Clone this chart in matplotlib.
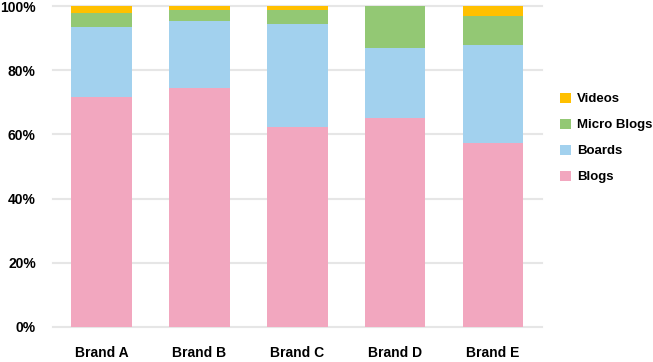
import matplotlib.pyplot as plt
from matplotlib.ticker import FuncFormatter

brands = ["Brand A", "Brand B", "Brand C", "Brand D", "Brand E"]
blogs = [71.7, 74.5, 62.3, 65.2, 57.3]
boards = [21.8, 20.9, 32.1, 21.8, 30.6]
micro_blogs = [4.3, 3.3, 4.3, 13.0, 9.0]
videos = [2.2, 1.3, 1.3, 0.0, 3.1]

colors = {"Blogs": "#F2A7BF", "Boards": "#A2D1EE",
          "Micro Blogs": "#93C874", "Videos": "#FFC000"}

plt.rcParams['font.family'] = ['Liberation Sans', 'DejaVu Sans']

fig = plt.figure(figsize=(6.53, 3.62), dpi=100)
ax = fig.add_axes([52.5/653, 1 - 327/362, (542 - 52.5)/653, 321/362])

series = [("Blogs", blogs), ("Boards", boards),
          ("Micro Blogs", micro_blogs), ("Videos", videos)]
bottom = [0.0] * len(brands)
bars = {}
for name, vals in series:
    bars[name] = ax.bar(brands, vals, width=0.62, bottom=bottom,
                        color=colors[name], zorder=2, linewidth=0)
    bottom = [b + v for b, v in zip(bottom, vals)]

ax.set_ylim(0, 100)
ax.set_xlim(-0.5, len(brands) - 0.5)
ax.set_yticks(range(0, 101, 20))
ax.yaxis.set_major_formatter(FuncFormatter(lambda v, p: f"{int(v)}%"))
ax.grid(axis="y", color="#e6e6e6", linewidth=1.5, zorder=0)
for s in ax.spines.values():
    s.set_visible(False)
ax.tick_params(length=0, labelsize=10)
ax.tick_params(axis="y", pad=12)
ax.tick_params(axis="x", pad=14)
for lab in ax.get_xticklabels() + ax.get_yticklabels():
    lab.set_fontweight("bold")
for gl in ax.get_ygridlines():
    gl.set_clip_on(False)

order = ["Videos", "Micro Blogs", "Boards", "Blogs"]
fig.legend([bars[n] for n in order], order, loc="center left",
           bbox_to_anchor=(551/653, 1 - 138/362), frameon=False,
           prop={"weight": "bold", "size": 9.5}, handlelength=0.85,
           handleheight=0.85, handletextpad=0.4, labelspacing=1.0,
           borderpad=0.2)

fig.savefig("out.png", dpi=100)
